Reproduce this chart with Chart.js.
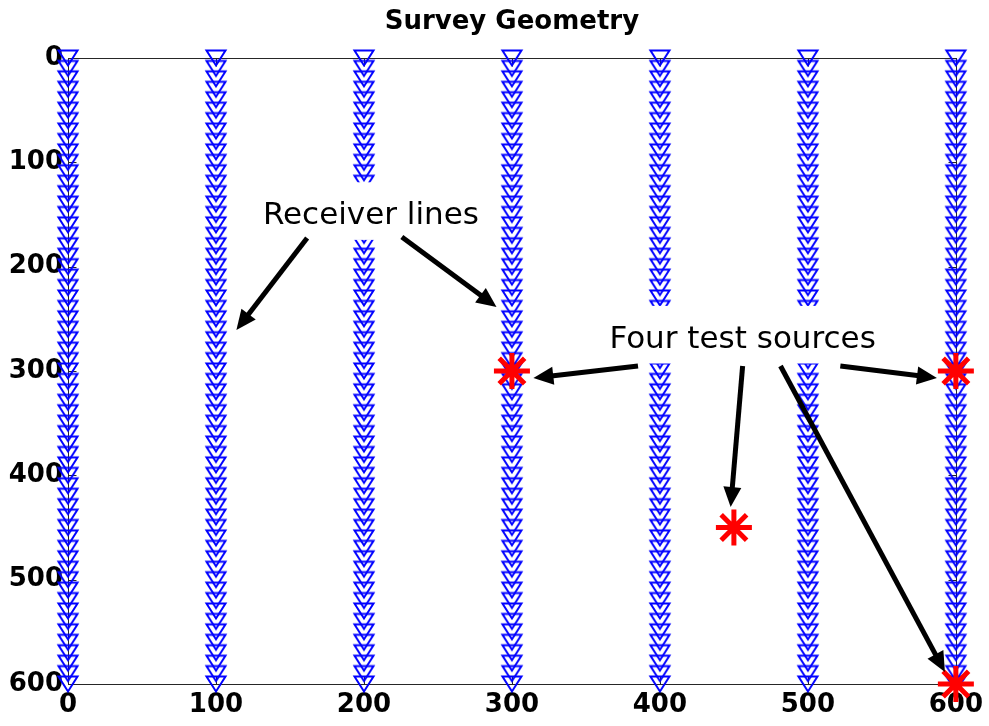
<!DOCTYPE html>
<html>
<head>
<meta charset="utf-8">
<title>Survey Geometry</title>
<script src="https://cdn.jsdelivr.net/npm/chart.js@4/dist/chart.umd.min.js"></script>
<style>
  html, body { margin: 0; padding: 0; background: #ffffff; }
  #wrap { width: 989px; height: 726px; }
</style>
</head>
<body>
<div id="wrap"><canvas id="chart" width="989" height="726"></canvas></div>
<script>
// Receiver lines: inline positions and the receiver depths along each line
const receiverLineX = [0, 100, 200, 300, 400, 500, 600];
const receiverDepth = [0, 10, 20, 30, 40, 50, 60, 70, 80, 90,
  100, 110, 120, 130, 140, 150, 160, 170, 180, 190,
  200, 210, 220, 230, 240, 250, 260, 270, 280, 290,
  300, 310, 320, 330, 340, 350, 360, 370, 380, 390,
  400, 410, 420, 430, 440, 450, 460, 470, 480, 490,
  500, 510, 520, 530, 540, 550, 560, 570, 580, 590, 600];

// Test source locations
const sourceX = [300, 450, 600, 600];
const sourceY = [300, 450, 300, 600];

// Tick values
const xTickValues = [0, 100, 200, 300, 400, 500, 600];
const yTickValues = [0, 100, 200, 300, 400, 500, 600];

// Callout texts (anchor = centre of the baseline, in data units)
const calloutText = ['Receiver lines', 'Four test sources'];
const calloutAnchor = [[204.7, 159.0], [455.9, 277.5]];

// Callout arrows: tail and tip, in data units
const arrowTail = [[161.6, 172.5], [225.6, 171.6], [385.2, 295.2], [455.9, 295.2], [481.5, 295.2], [521.9, 295.2]];
const arrowTip  = [[113.8, 260.7], [289.6, 238.7], [314.5, 306.7], [447.8, 430.4], [592.6, 588.5], [587.2, 306.7]];

// Downward-pointing open triangle used as the receiver marker
function makeReceiverMarker() {
  const c = document.createElement('canvas');
  c.width = 24; c.height = 20;
  const g = c.getContext('2d');
  g.strokeStyle = '#0000ff';
  g.lineWidth = 2;
  g.lineJoin = 'miter';
  g.beginPath();
  g.moveTo(2.5, 2.5);
  g.lineTo(21.5, 2.5);
  g.lineTo(12, 17.5);
  g.closePath();
  g.stroke();
  return c;
}

const receiverPoints = receiverLineX.flatMap(x => receiverDepth.map(y => ({ x, y })));
const sourcePoints = sourceX.map((x, i) => ({ x, y: sourceY[i] }));

const TICK_FONT = { family: '"DejaVu Sans", sans-serif', size: 26, weight: 'bold' };

// Axes box with inward tick marks, drawn beneath the markers
const framePlugin = {
  id: 'frame',
  beforeDatasetsDraw(chart) {
    const { ctx, chartArea: a, scales } = chart;
    const L = Math.round(a.left) + 0.5, R = Math.round(a.right) + 0.5;
    const T = Math.round(a.top) + 0.5, B = Math.round(a.bottom) + 0.5;
    const len = 8;
    ctx.save();
    ctx.strokeStyle = '#262626';
    ctx.lineWidth = 1;
    ctx.strokeRect(L, T, R - L, B - T);
    ctx.beginPath();
    xTickValues.forEach(v => {
      const px = Math.round(scales.x.getPixelForValue(v)) + 0.5;
      ctx.moveTo(px, T); ctx.lineTo(px, T + len);
      ctx.moveTo(px, B); ctx.lineTo(px, B - len);
    });
    yTickValues.forEach(v => {
      const py = Math.round(scales.y.getPixelForValue(v)) + 0.5;
      ctx.moveTo(L, py); ctx.lineTo(L + len, py);
      ctx.moveTo(R, py); ctx.lineTo(R - len, py);
    });
    ctx.stroke();
    ctx.restore();
  }
};

// Text callouts on white boxes, and their arrows
const calloutPlugin = {
  id: 'callouts',
  afterDatasetsDraw(chart) {
    const { ctx, scales: { x, y } } = chart;
    const size = 31;
    const cap = size * 0.729;
    ctx.save();
    ctx.font = size + 'px "DejaVu Sans", sans-serif';
    ctx.textAlign = 'center';
    ctx.textBaseline = 'alphabetic';
    calloutText.forEach((t, i) => {
      const cx = x.getPixelForValue(calloutAnchor[i][0]);
      const by = y.getPixelForValue(calloutAnchor[i][1]);
      const w = ctx.measureText(t).width;
      ctx.fillStyle = '#ffffff';
      ctx.fillRect(cx - w / 2 - 8, by - cap - 19, w + 16, cap + 35);
      ctx.fillStyle = '#000000';
      ctx.fillText(t, cx, by);
    });
    const headLen = 20, headHalf = 9;
    arrowTail.forEach((tail, i) => {
      const x0 = x.getPixelForValue(tail[0]), y0 = y.getPixelForValue(tail[1]);
      const x1 = x.getPixelForValue(arrowTip[i][0]), y1 = y.getPixelForValue(arrowTip[i][1]);
      const dx = x1 - x0, dy = y1 - y0, d = Math.hypot(dx, dy);
      const ux = dx / d, uy = dy / d;
      const bx = x1 - ux * headLen, by = y1 - uy * headLen;
      ctx.strokeStyle = '#000000';
      ctx.lineWidth = 5;
      ctx.lineCap = 'butt';
      ctx.beginPath();
      ctx.moveTo(x0, y0);
      ctx.lineTo(bx + ux * 2, by + uy * 2);
      ctx.stroke();
      ctx.fillStyle = '#000000';
      ctx.beginPath();
      ctx.moveTo(x1, y1);
      ctx.lineTo(bx - uy * headHalf, by + ux * headHalf);
      ctx.lineTo(bx + uy * headHalf, by - ux * headHalf);
      ctx.closePath();
      ctx.fill();
    });
    ctx.restore();
  }
};

new Chart(document.getElementById('chart'), {
  type: 'scatter',
  data: {
    datasets: [
      {
        label: 'Sources',
        data: sourcePoints,
        order: 0,
        clip: false,
        pointStyle: 'star',
        pointRadius: 18,
        pointBorderWidth: 5,
        pointBorderColor: '#ff0000',
        pointBackgroundColor: '#ff0000',
        showLine: false
      },
      {
        label: 'Receivers',
        data: receiverPoints,
        order: 1,
        clip: false,
        pointStyle: makeReceiverMarker(),
        pointRadius: 8,
        showLine: false
      }
    ]
  },
  options: {
    responsive: false,
    animation: false,
    events: [],
    layout: { padding: { top: 0, right: 30, bottom: 0, left: 0 } },
    plugins: {
      legend: { display: false },
      tooltip: { enabled: false },
      title: {
        display: true,
        text: 'Survey Geometry',
        fullSize: false,
        color: '#000000',
        font: { family: '"DejaVu Sans", sans-serif', size: 26, weight: 'bold' },
        padding: { top: 7, bottom: 19.8 }
      }
    },
    scales: {
      x: {
        type: 'linear',
        position: 'bottom',
        min: 0,
        max: 600,
        afterFit: s => { s.height = 42; },
        afterBuildTicks: s => { s.ticks = xTickValues.map(v => ({ value: v })); },
        grid: { display: false, drawTicks: false },
        border: { display: false },
        ticks: { color: '#000000', font: TICK_FONT, padding: 6, maxRotation: 0, autoSkip: false }
      },
      y: {
        type: 'linear',
        position: 'left',
        min: 0,
        max: 600,
        reverse: true,
        afterFit: s => { s.width = 68; },
        afterBuildTicks: s => { s.ticks = yTickValues.map(v => ({ value: v })); },
        grid: { display: false, drawTicks: false },
        border: { display: false },
        ticks: { color: '#000000', font: TICK_FONT, padding: 5, autoSkip: false }
      }
    }
  },
  plugins: [framePlugin, calloutPlugin]
});
</script>
</body>
</html>
